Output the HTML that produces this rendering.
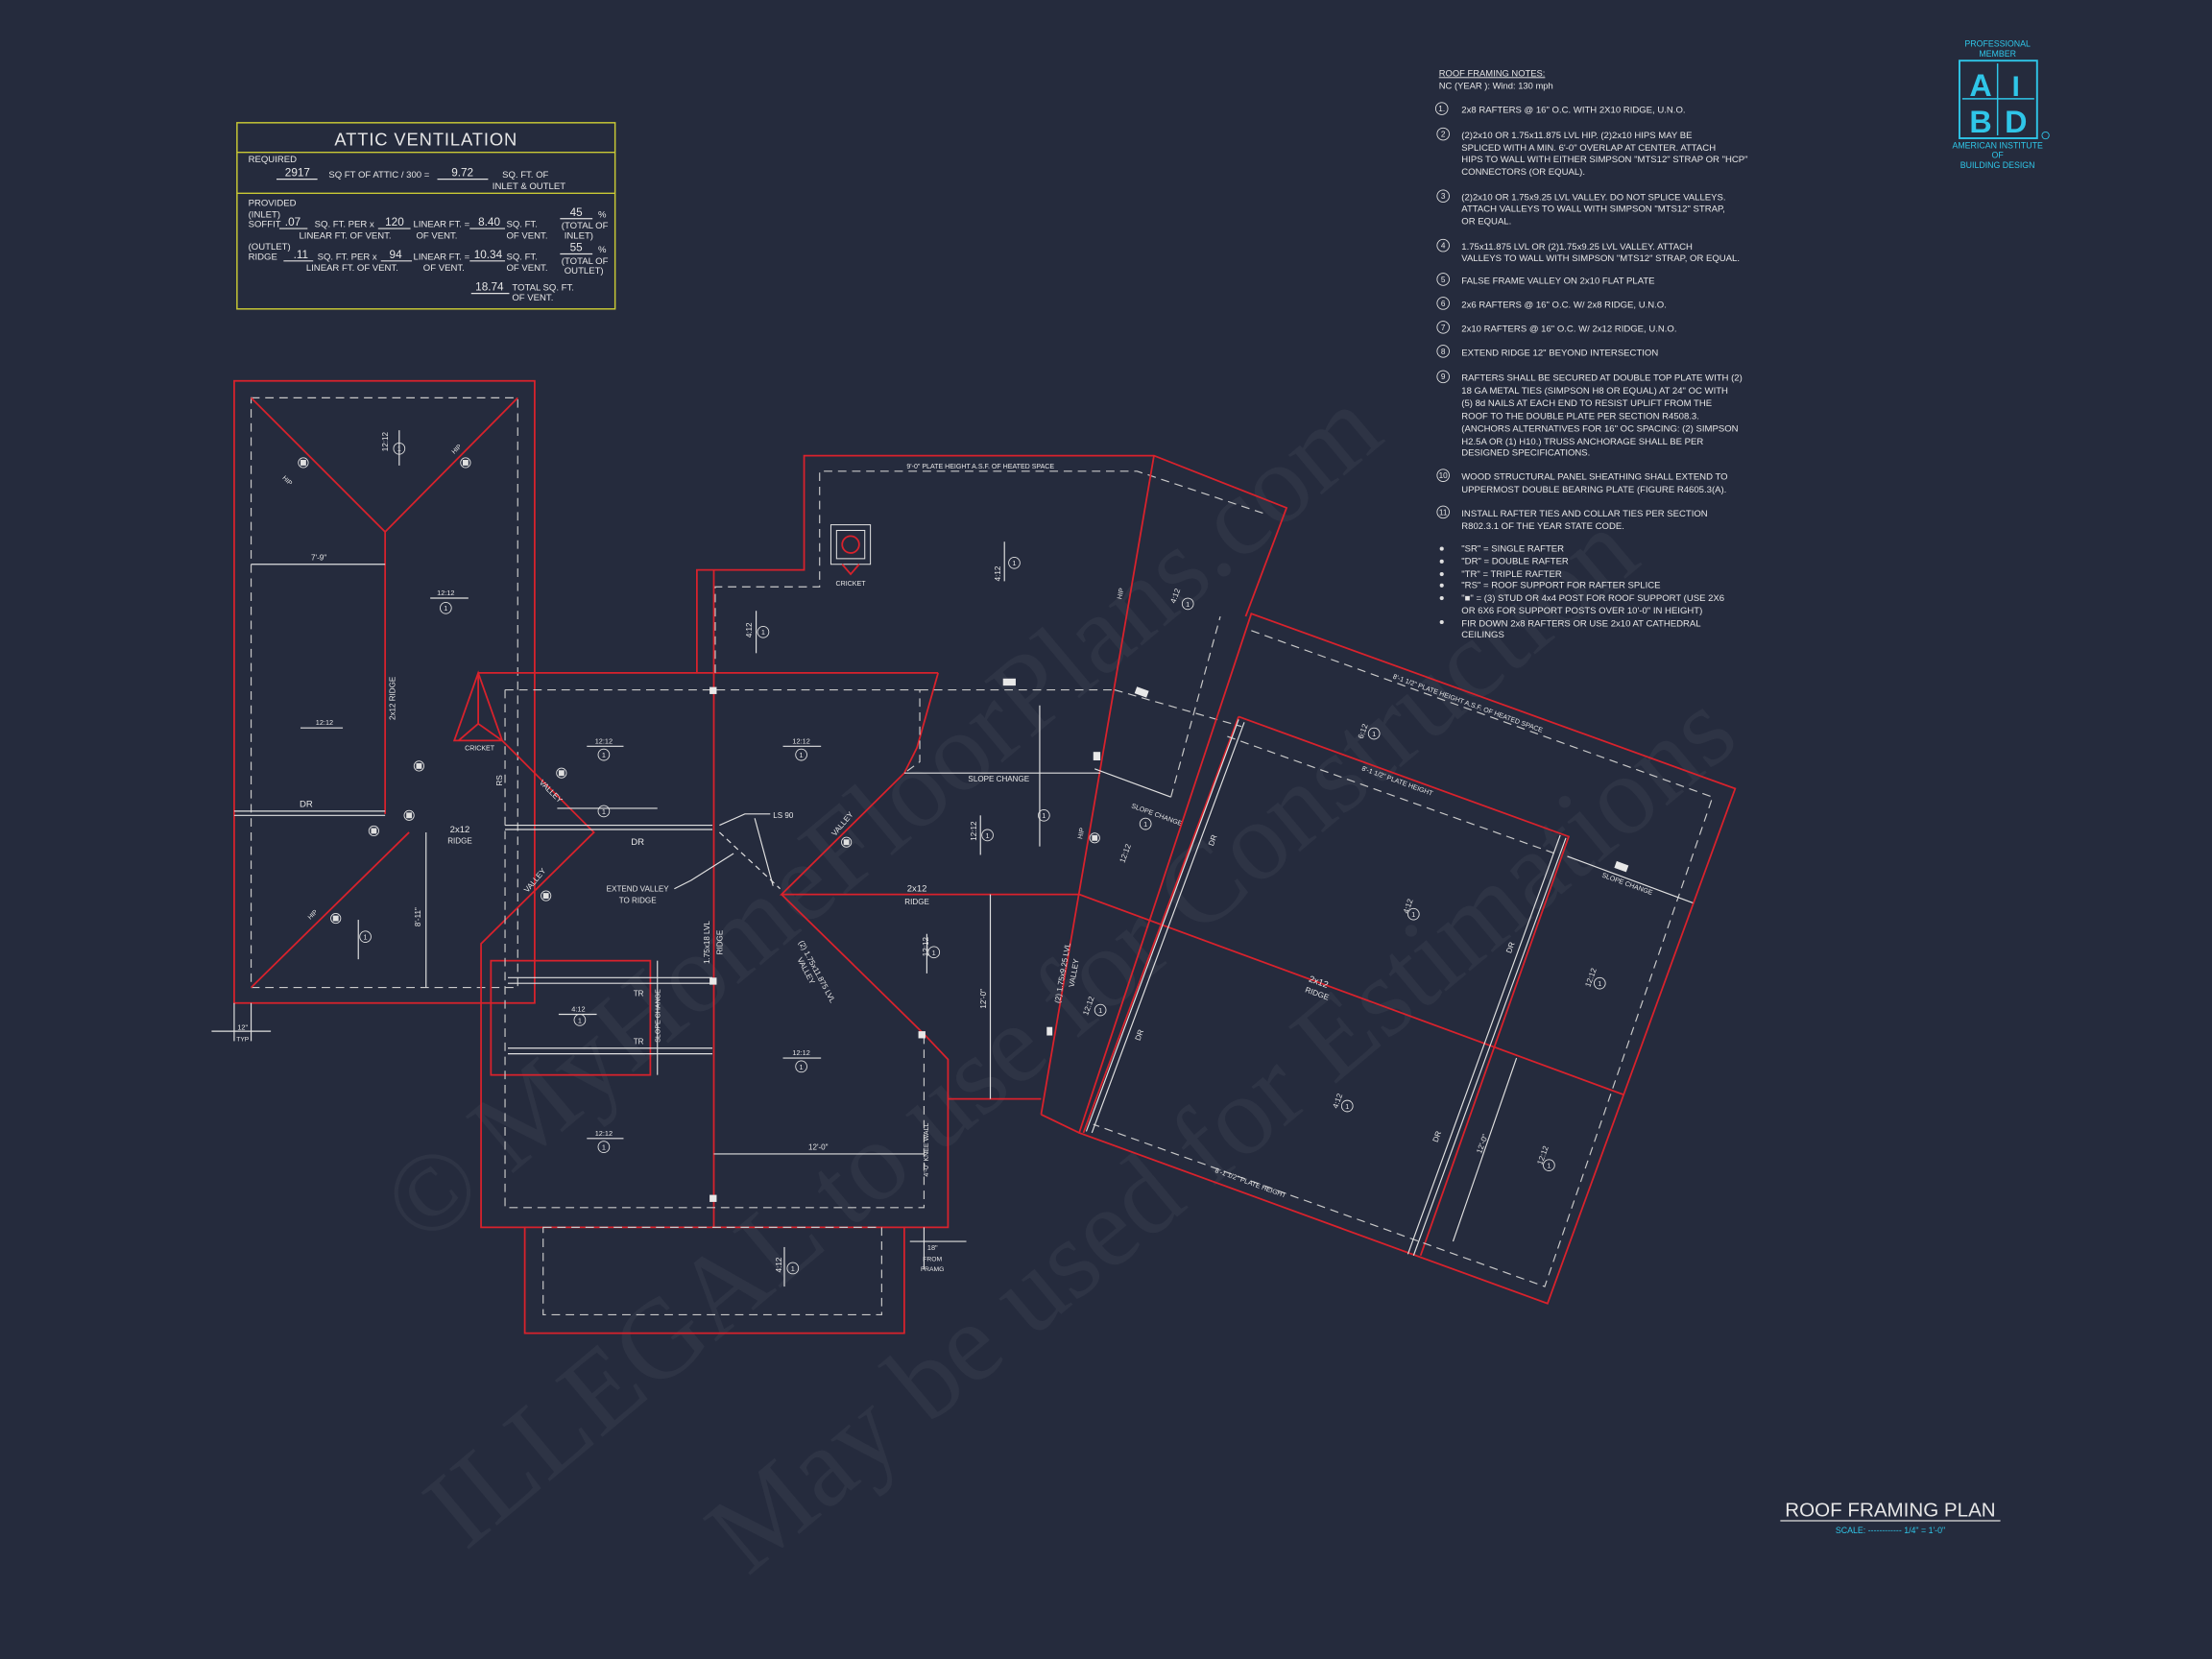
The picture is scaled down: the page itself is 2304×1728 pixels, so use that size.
<!DOCTYPE html>
<html><head><meta charset="utf-8"><style>
html,body{margin:0;padding:0;background:#252b3d;}
svg{display:block}
text{font-family:"Liberation Sans",sans-serif;fill:#e6e6e6}
.r{stroke:#d9222c;stroke-width:1.2;fill:none}
.d{stroke:#c9c9c9;stroke-width:.8;fill:none;stroke-dasharray:6 4}
.w{stroke:#e0e0e0;stroke-width:.8;fill:none}
.n{font-size:6.5px}
.s{font-size:5.5px}
.wm{font-family:"Liberation Serif",serif;fill:#ffffff;fill-opacity:.045;font-size:80px}
</style></head><body>
<svg width="2304" height="1728" viewBox="0 0 1568 1176" preserveAspectRatio="none" xmlns="http://www.w3.org/2000/svg">
<rect width="1568" height="1176" fill="#252b3d"/>

<!-- watermark -->
<text class="wm" transform="translate(300,885) rotate(-40)">© MyHomeFloorPlans.com</text>
<text class="wm" transform="translate(330,1100) rotate(-40)">ILLEGAL to use for Construction</text>
<text class="wm" transform="translate(530,1118) rotate(-40)">May be used for Estimations</text>

<!-- attic ventilation table -->
<g>
<rect x="168" y="87" width="268" height="132" fill="none" stroke="#c9c935" stroke-width="1"/>
<line x1="168" y1="108" x2="436" y2="108" stroke="#c9c935" stroke-width="1"/>
<line x1="168" y1="137" x2="436" y2="137" stroke="#c9c935" stroke-width="1"/>
<text x="302" y="103" font-size="12.5" text-anchor="middle" letter-spacing=".6">ATTIC VENTILATION</text>
<g font-size="6.5">
<text x="176" y="115">REQUIRED</text>
<text x="202" y="125" font-size="8">2917</text><line x1="196" y1="127" x2="225" y2="127" class="w"/>
<text x="233" y="126">SQ FT OF ATTIC / 300 =</text>
<text x="320" y="125" font-size="8">9.72</text><line x1="310" y1="127" x2="346" y2="127" class="w"/>
<text x="356" y="126">SQ. FT. OF</text><text x="349" y="134">INLET &amp; OUTLET</text>
<text x="176" y="146">PROVIDED</text>
<text x="176" y="154">(INLET)</text>
<text x="176" y="161">SOFFIT</text>
<text x="202" y="160" font-size="8">.07</text><line x1="198" y1="162" x2="218" y2="162" class="w"/>
<text x="223" y="161">SQ. FT. PER x</text><text x="212" y="169">LINEAR FT. OF VENT.</text>
<text x="273" y="160" font-size="8">120</text><line x1="268" y1="162" x2="291" y2="162" class="w"/>
<text x="293" y="161">LINEAR FT. =</text><text x="295" y="169">OF VENT.</text>
<text x="339" y="160" font-size="8">8.40</text><line x1="333" y1="162" x2="358" y2="162" class="w"/>
<text x="359" y="161">SQ. FT.</text><text x="359" y="169">OF VENT.</text>
<text x="404" y="153" font-size="8">45</text><line x1="397" y1="155" x2="420" y2="155" class="w"/><text x="424" y="154">%</text>
<text x="398" y="162">(TOTAL OF</text><text x="400" y="169">INLET)</text>
<text x="176" y="177">(OUTLET)</text>
<text x="176" y="184">RIDGE</text>
<text x="208" y="183" font-size="8">.11</text><line x1="201" y1="185" x2="222" y2="185" class="w"/>
<text x="225" y="184">SQ. FT. PER x</text><text x="217" y="192">LINEAR FT. OF VENT.</text>
<text x="276" y="183" font-size="8">94</text><line x1="270" y1="185" x2="292" y2="185" class="w"/>
<text x="293" y="184">LINEAR FT. =</text><text x="300" y="192">OF VENT.</text>
<text x="336" y="183" font-size="8">10.34</text><line x1="333" y1="185" x2="358" y2="185" class="w"/>
<text x="359" y="184">SQ. FT.</text><text x="359" y="192">OF VENT.</text>
<text x="404" y="178" font-size="8">55</text><line x1="397" y1="180" x2="420" y2="180" class="w"/><text x="424" y="179">%</text>
<text x="398" y="187">(TOTAL OF</text><text x="400" y="194">OUTLET)</text>
<text x="337" y="206" font-size="8">18.74</text><line x1="334" y1="208" x2="361" y2="208" class="w"/>
<text x="363" y="206">TOTAL  SQ. FT.</text><text x="363" y="213">OF VENT.</text>
</g>
</g>

<!-- notes -->
<g class="n">
<text x="1020" y="54" font-size="6.4" text-decoration="underline">ROOF FRAMING NOTES:</text>
<text x="1020" y="63" font-size="6.4">NC (YEAR ): Wind: 130 mph</text>
<g fill="none" stroke="#e0e0e0" stroke-width=".6">
<circle cx="1022" cy="77" r="4.3"/><circle cx="1023" cy="95" r="4.3"/><circle cx="1023" cy="139" r="4.3"/><circle cx="1023" cy="174" r="4.3"/><circle cx="1023" cy="198" r="4.3"/><circle cx="1023" cy="215" r="4.3"/><circle cx="1023" cy="232" r="4.3"/><circle cx="1023" cy="249" r="4.3"/><circle cx="1023" cy="267" r="4.3"/><circle cx="1023" cy="337" r="4.3"/><circle cx="1023" cy="363" r="4.3"/>
</g>
<g font-size="5.6" text-anchor="middle"><text x="1022" y="79">1.</text><text x="1023" y="97">2</text><text x="1023" y="141">3</text><text x="1023" y="176">4</text><text x="1023" y="200">5</text><text x="1023" y="217">6</text><text x="1023" y="234">7</text><text x="1023" y="251">8</text><text x="1023" y="269">9</text><text x="1023" y="339">10</text><text x="1023" y="365">11</text></g>
<text x="1036" y="80">2x8 RAFTERS @ 16" O.C. WITH 2X10 RIDGE, U.N.O.</text>
<text x="1036" y="98">(2)2x10 OR 1.75x11.875 LVL HIP.  (2)2x10 HIPS MAY BE</text>
<text x="1036" y="107">SPLICED WITH A MIN. 6'-0" OVERLAP AT CENTER. ATTACH</text>
<text x="1036" y="115">HIPS TO WALL WITH EITHER SIMPSON "MTS12" STRAP OR "HCP"</text>
<text x="1036" y="124">CONNECTORS (OR EQUAL).</text>
<text x="1036" y="142">(2)2x10 OR 1.75x9.25 LVL VALLEY.  DO NOT SPLICE VALLEYS.</text>
<text x="1036" y="150">ATTACH VALLEYS TO WALL WITH  SIMPSON "MTS12" STRAP,</text>
<text x="1036" y="159">OR EQUAL.</text>
<text x="1036" y="177">1.75x11.875 LVL OR (2)1.75x9.25 LVL VALLEY.  ATTACH</text>
<text x="1036" y="185">VALLEYS TO WALL WITH SIMPSON "MTS12" STRAP, OR EQUAL.</text>
<text x="1036" y="201">FALSE FRAME VALLEY ON 2x10 FLAT PLATE</text>
<text x="1036" y="218">2x6 RAFTERS @ 16" O.C. W/ 2x8 RIDGE, U.N.O.</text>
<text x="1036" y="235">2x10 RAFTERS @ 16" O.C. W/ 2x12 RIDGE, U.N.O.</text>
<text x="1036" y="252">EXTEND RIDGE 12" BEYOND INTERSECTION</text>
<text x="1036" y="270">RAFTERS SHALL BE SECURED AT DOUBLE TOP PLATE WITH (2)</text>
<text x="1036" y="279">18 GA METAL TIES (SIMPSON H8 OR EQUAL) AT 24" OC WITH</text>
<text x="1036" y="288">(5) 8d NAILS AT EACH END TO RESIST UPLIFT FROM THE</text>
<text x="1036" y="297">ROOF TO THE DOUBLE PLATE PER SECTION R4508.3.</text>
<text x="1036" y="306">(ANCHORS ALTERNATIVES FOR 16" OC SPACING: (2) SIMPSON</text>
<text x="1036" y="315">H2.5A OR (1) H10.) TRUSS ANCHORAGE SHALL BE PER</text>
<text x="1036" y="323">DESIGNED SPECIFICATIONS.</text>
<text x="1036" y="340">WOOD STRUCTURAL PANEL SHEATHING SHALL EXTEND TO</text>
<text x="1036" y="349">UPPERMOST DOUBLE BEARING PLATE (FIGURE R4605.3(A).</text>
<text x="1036" y="366">INSTALL RAFTER TIES AND COLLAR TIES PER SECTION</text>
<text x="1036" y="375">R802.3.1 OF THE YEAR STATE CODE.</text>
<g><circle cx="1022" cy="389" r="1.4" fill="#e0e0e0"/><circle cx="1022" cy="398" r="1.4" fill="#e0e0e0"/><circle cx="1022" cy="407" r="1.4" fill="#e0e0e0"/><circle cx="1022" cy="415" r="1.4" fill="#e0e0e0"/><circle cx="1022" cy="424" r="1.4" fill="#e0e0e0"/><circle cx="1022" cy="441" r="1.4" fill="#e0e0e0"/></g>
<text x="1036" y="391">"SR"  = SINGLE RAFTER</text>
<text x="1036" y="400">"DR"  = DOUBLE RAFTER</text>
<text x="1036" y="409">"TR"  = TRIPLE RAFTER</text>
<text x="1036" y="417">"RS" = ROOF SUPPORT FOR RAFTER SPLICE</text>
<text x="1036" y="426">"■" = (3) STUD OR 4x4 POST FOR ROOF SUPPORT (USE 2X6</text>
<text x="1036" y="435">OR 6X6 FOR SUPPORT POSTS OVER 10'-0" IN HEIGHT)</text>
<text x="1036" y="444">FIR DOWN 2x8 RAFTERS OR USE 2x10 AT CATHEDRAL</text>
<text x="1036" y="452">CEILINGS</text>
</g>

<!-- logo -->
<g>
<text x="1416" y="33" font-size="6" text-anchor="middle" style="fill:#2fc6e8">PROFESSIONAL</text>
<text x="1416" y="40" font-size="6" text-anchor="middle" style="fill:#2fc6e8">MEMBER</text>
<rect x="1389" y="43" width="55" height="55" fill="none" stroke="#2fc6e8" stroke-width="1.3"/>
<line x1="1416" y1="45" x2="1416" y2="96" stroke="#2fc6e8" stroke-width="1"/>
<line x1="1391" y1="70" x2="1442" y2="70" stroke="#2fc6e8" stroke-width="1"/>
<text x="1404" y="68" font-size="22" font-weight="bold" text-anchor="middle" style="fill:#2fc6e8">A</text>
<text x="1429" y="68" font-size="20" font-weight="bold" text-anchor="middle" style="fill:#2fc6e8">I</text>
<text x="1404" y="94" font-size="22" font-weight="bold" text-anchor="middle" style="fill:#2fc6e8">B</text>
<text x="1429" y="94" font-size="22" font-weight="bold" text-anchor="middle" style="fill:#2fc6e8">D</text>
<circle cx="1450" cy="96" r="2.5" fill="none" stroke="#2fc6e8" stroke-width=".6"/>
<text x="1416" y="105" font-size="6" text-anchor="middle" style="fill:#2fc6e8">AMERICAN INSTITUTE</text>
<text x="1416" y="112" font-size="6" text-anchor="middle" style="fill:#2fc6e8">OF</text>
<text x="1416" y="119" font-size="6" text-anchor="middle" style="fill:#2fc6e8">BUILDING DESIGN</text>
</g>

<!-- title -->
<text x="1340" y="1075" font-size="14" text-anchor="middle">ROOF FRAMING PLAN</text>
<line x1="1262" y1="1078" x2="1418" y2="1078" stroke="#e0e0e0" stroke-width=".9"/>
<text x="1340" y="1087" font-size="6" text-anchor="middle" style="fill:#2fc6e8">SCALE: ------------ 1/4" = 1'-0"</text>

<!-- LEFT WING -->
<rect x="166" y="270" width="213" height="441" class="r"/>
<rect x="178" y="282" width="189" height="418" class="d"/>
<polyline points="178,282 273,377 367,282" class="r"/>
<line x1="273" y1="377" x2="273" y2="577" class="r"/>
<polyline points="178,700 290,590" class="r"/>
<line x1="166" y1="575" x2="273" y2="575" class="w"/><line x1="166" y1="578" x2="273" y2="578" class="w"/>
<line x1="178" y1="400" x2="273" y2="400" class="w"/><text x="226" y="397" class="s" text-anchor="middle">7'-9"</text>
<line x1="302" y1="590" x2="302" y2="700" class="w"/><text x="298" y="650" class="s" transform="rotate(-90 298 650)" text-anchor="middle">8'-11"</text>
<text x="280" y="495" class="s" transform="rotate(-90 280 495)" text-anchor="middle">2x12 RIDGE</text>
<text x="217" y="572" class="n" text-anchor="middle">DR</text>
<line x1="166" y1="711" x2="166" y2="738" class="w"/><line x1="178" y1="711" x2="178" y2="738" class="w"/>
<line x1="150" y1="731" x2="192" y2="731" class="w"/><text x="172" y="730" font-size="5" text-anchor="middle">12"</text><text x="172" y="738" font-size="4.5" text-anchor="middle">TYP</text>

<!-- CENTER -->
<polyline points="339,477 665,477" class="r"/>
<polyline points="665,477 650,530 641,548 554,634 765,634" class="r"/>
<polyline points="554,634 655,733 672,751 672,870 341,870 341,669 421,590 356,525 339,477 322,525 356,525" class="r"/>
<line x1="339" y1="477" x2="339" y2="513" class="r"/><line x1="325" y1="525" x2="339" y2="513" class="r"/><line x1="356" y1="525" x2="339" y2="513" class="r"/>
<line x1="506" y1="477" x2="506" y2="870" class="r"/>
<rect x="348" y="681" width="113" height="81" class="r"/>
<polyline points="372,870 372,945 641,945 641,870" class="r"/>
<rect x="385" y="870" width="240" height="62" class="d" />
<polyline points="358,489 652,489 652,540 641,548" class="d"/>
<polyline points="358,489 358,856 655,856 655,733" class="d"/>
<line x1="652" y1="489" x2="790" y2="489" class="d"/>
<line x1="506" y1="477" x2="506" y2="404" class="r"/>
<polyline points="494,477 494,404 570,404 570,323 818,323 912,360 883,437" class="r"/>
<polyline points="507,477 507,416 581,416 581,334 806,334 896,364" class="d"/>
<line x1="818" y1="323" x2="738" y2="790" class="r"/>
<line x1="672" y1="779" x2="738" y2="779" class="r"/>
<!-- DR lines center -->
<g class="w"><line x1="358" y1="585" x2="505" y2="585"/><line x1="358" y1="588" x2="505" y2="588"/></g>
<g class="w"><line x1="360" y1="693" x2="505" y2="693"/><line x1="360" y1="697" x2="505" y2="697"/><line x1="360" y1="743" x2="505" y2="743"/><line x1="360" y1="747" x2="505" y2="747"/></g>
<line x1="466" y1="681" x2="466" y2="762" class="w"/>
<line x1="506" y1="818" x2="655" y2="818" class="w"/><text x="580" y="815" class="s" text-anchor="middle">12'-0"</text>
<line x1="702" y1="634" x2="702" y2="779" class="w"/><text x="699" y="708" class="s" transform="rotate(-90 699 708)" text-anchor="middle">12'-0"</text>
<line x1="641" y1="548" x2="780" y2="548" class="w"/><text x="708" y="554" class="s" text-anchor="middle">SLOPE CHANGE</text>
<line x1="737" y1="500" x2="737" y2="600" class="w"/>
<text x="566" y="668" class="s" transform="rotate(62 566 668)">(2) 1.75x11.875 LVL</text>
<text x="565" y="680" class="s" transform="rotate(62 565 680)">VALLEY</text>
<text x="503" y="668" class="s" transform="rotate(-90 503 668)" text-anchor="middle">1.75x18 LVL</text>
<text x="512" y="668" class="s" transform="rotate(-90 512 668)" text-anchor="middle">RIDGE</text>
<text x="650" y="632" class="n" text-anchor="middle">2x12</text><text x="650" y="641" class="s" text-anchor="middle">RIDGE</text>
<text x="326" y="590" class="n" text-anchor="middle">2x12</text><text x="326" y="598" class="s" text-anchor="middle">RIDGE</text>
<text x="452" y="599" class="n" text-anchor="middle">DR</text>
<text x="452" y="632" class="s" text-anchor="middle">EXTEND VALLEY</text><text x="452" y="640" class="s" text-anchor="middle">TO RIDGE</text>
<polyline points="478,630 490,624 520,605" class="w"/>
<text x="548" y="580" class="s">LS 90</text>
<polyline points="546,577 528,577 510,585" class="w"/><line x1="535" y1="580" x2="548" y2="628" class="w"/>
<line x1="510" y1="590" x2="553" y2="630" class="w" stroke-dasharray="4 3"/>
<text x="340" y="532" font-size="4.8" text-anchor="middle">CRICKET</text>
<text x="449" y="706" class="s">TR</text><text x="449" y="740" class="s">TR</text>
<text x="468" y="720" font-size="4.8" transform="rotate(-90 468 720)" text-anchor="middle">SLOPE CHANGE</text>
<text x="658" y="815" font-size="4.8" transform="rotate(-90 658 815)" text-anchor="middle">4'-0" KNEE WALL</text>
<line x1="655" y1="870" x2="655" y2="900" class="w"/><line x1="645" y1="880" x2="685" y2="880" class="w"/>
<text x="661" y="886" font-size="5" text-anchor="middle">18"</text><text x="661" y="894" font-size="4.6" text-anchor="middle">FROM</text><text x="661" y="901" font-size="4.6" text-anchor="middle">FRAMG</text>
<text x="382" y="555" class="s" transform="rotate(45 382 555)">VALLEY</text>
<text x="374" y="633" class="s" transform="rotate(-50 374 633)">VALLEY</text>
<text x="592" y="593" class="s" transform="rotate(-50 592 593)">VALLEY</text>
<text x="356" y="557" class="s" transform="rotate(-90 356 557)">RS</text>
<!-- cricket box -->
<rect x="589" y="372" width="28" height="28" fill="none" stroke="#e0e0e0" stroke-width=".7"/>
<rect x="593" y="376" width="20" height="20" fill="none" stroke="#e0e0e0" stroke-width=".7"/>
<circle cx="603" cy="386" r="6" class="r"/>
<polyline points="597,400 603,407 609,400" class="r"/>
<text x="603" y="415" font-size="4.8" text-anchor="middle">CRICKET</text>
<text x="695" y="332" font-size="4.8" text-anchor="middle">9'-0" PLATE HEIGHT A.S.F. OF HEATED SPACE</text>
<text x="795" y="425" font-size="4.8" transform="rotate(-78 795 425)">HIP</text>
<text x="767" y="595" font-size="4.8" transform="rotate(-78 767 595)">HIP</text>
<text x="755" y="690" class="s" transform="rotate(-80 755 690)" text-anchor="middle">(2) 1.75x9.25 LVL</text>
<text x="763" y="690" class="s" transform="rotate(-80 763 690)" text-anchor="middle">VALLEY</text>
<!-- posts -->
<g fill="#e8e8e8"><rect x="503" y="487" width="5" height="5"/><rect x="503" y="693" width="5" height="5"/><rect x="503" y="847" width="5" height="5"/><rect x="651" y="731" width="5" height="5"/><rect x="711" y="481" width="9" height="5"/><rect x="775" y="533" width="5" height="6"/><rect x="742" y="728" width="4" height="6"/><rect x="805" y="488" width="9" height="5" transform="rotate(20 809 490)"/><rect x="1145" y="612" width="9" height="5" transform="rotate(20 1150 614)"/></g>

<!-- upper-right block / slope change -->
<polyline points="790,489 880,515" class="d"/>
<polyline points="776,545 830,565" class="w"/>
<polyline points="830,565 865,437" class="d"/>
<text x="805" y="566" font-size="4.8" transform="rotate(20 785 560)">SLOPE CHANGE</text>

<!-- RIGHT WING -->
<polygon points="887,435 1230,559 1097,924 765,803" class="r"/>
<polyline points="878,508 1112,593 1007,890" class="r"/>
<line x1="878" y1="508" x2="768" y2="803" class="r"/>
<line x1="765" y1="634" x2="1151" y2="776" class="r"/>
<line x1="738" y1="790" x2="765" y2="803" class="r"/>
<polyline points="887,447 1214,565 1095,912 775,797" class="d"/>
<line x1="870" y1="522" x2="1105" y2="606" class="d"/>
<g class="w"><line x1="878" y1="510" x2="770" y2="802"/><line x1="882" y1="512" x2="774" y2="803"/><line x1="1106" y1="592" x2="998" y2="889"/><line x1="1110" y1="594" x2="1002" y2="890"/></g>
<line x1="1111" y1="607" x2="1200" y2="640" class="w"/>
<line x1="1075" y1="750" x2="1030" y2="880" class="w"/>
<text x="1040" y="500" font-size="4.8" transform="rotate(20 1040 500)" text-anchor="middle">8'-1 1/2" PLATE HEIGHT A.S.F. OF HEATED SPACE</text>
<text x="990" y="555" font-size="4.8" transform="rotate(20 990 555)" text-anchor="middle">8'-1 1/2" PLATE HEIGHT</text>
<text x="886" y="840" font-size="4.8" transform="rotate(20 886 840)" text-anchor="middle">8'-1 1/2" PLATE HEIGHT</text>
<text x="1153" y="628" font-size="4.8" transform="rotate(20 1153 628)" text-anchor="middle">SLOPE CHANGE</text>
<text x="934" y="698" class="n" transform="rotate(20 934 698)" text-anchor="middle">2x12</text>
<text x="933" y="706" class="s" transform="rotate(20 933 706)" text-anchor="middle">RIDGE</text>
<g class="s"><text x="860" y="600" transform="rotate(-70 860 600)">DR</text><text x="808" y="738" transform="rotate(-70 808 738)">DR</text><text x="1071" y="676" transform="rotate(-70 1071 676)">DR</text><text x="1019" y="810" transform="rotate(-70 1019 810)">DR</text></g>
<text x="1050" y="818" class="s" transform="rotate(-70 1050 818)">12'-0"</text>

<!-- slope symbols -->
<g font-size="5" text-anchor="middle">
<g stroke="#e0e0e0" stroke-width=".6" fill="none">
<circle cx="283" cy="318" r="4"/><circle cx="316" cy="431" r="4"/><circle cx="259" cy="664" r="4"/><circle cx="428" cy="535" r="4"/><circle cx="568" cy="535" r="4"/><circle cx="541" cy="448" r="4"/><circle cx="719" cy="399" r="4"/><circle cx="842" cy="428" r="4"/><circle cx="740" cy="578" r="4"/><circle cx="700" cy="592" r="4"/><circle cx="662" cy="675" r="4"/><circle cx="812" cy="584" r="4"/><circle cx="780" cy="716" r="4"/><circle cx="411" cy="723" r="4"/><circle cx="568" cy="756" r="4"/><circle cx="428" cy="813" r="4"/><circle cx="562" cy="899" r="4"/><circle cx="974" cy="520" r="4"/><circle cx="1002" cy="648" r="4"/><circle cx="1134" cy="697" r="4"/><circle cx="955" cy="784" r="4"/><circle cx="1098" cy="826" r="4"/><circle cx="428" cy="575" r="4"/>
<circle cx="215" cy="328" r="3.5"/><circle cx="330" cy="328" r="3.5"/><circle cx="297" cy="543" r="3.5"/><circle cx="265" cy="589" r="3.5"/><circle cx="238" cy="651" r="3.5"/><circle cx="398" cy="548" r="3.5"/><circle cx="387" cy="635" r="3.5"/><circle cx="600" cy="597" r="3.5"/><circle cx="776" cy="594" r="3.5"/><circle cx="290" cy="578" r="3.5"/>
</g>
<g fill="#e0e0e0"><rect x="213" y="326" width="4" height="4"/><rect x="328" y="326" width="4" height="4"/><rect x="295" y="541" width="4" height="4"/><rect x="263" y="587" width="4" height="4"/><rect x="236" y="649" width="4" height="4"/><rect x="396" y="546" width="4" height="4"/><rect x="385" y="633" width="4" height="4"/><rect x="598" y="595" width="4" height="4"/><rect x="774" y="592" width="4" height="4"/><rect x="288" y="576" width="4" height="4"/></g>
<text x="283" y="320">1</text><text x="316" y="433">1</text><text x="259" y="666">1</text><text x="428" y="537">1</text><text x="568" y="537">1</text><text x="541" y="450">1</text><text x="719" y="401">1</text><text x="842" y="430">1</text><text x="740" y="580">1</text><text x="700" y="594">1</text><text x="662" y="677">1</text><text x="812" y="586">1</text><text x="780" y="718">1</text><text x="411" y="725">1</text><text x="568" y="758">1</text><text x="428" y="815">1</text><text x="562" y="901">1</text><text x="974" y="522">1</text><text x="1002" y="650">1</text><text x="1134" y="699">1</text><text x="955" y="786">1</text><text x="1098" y="828">1</text><text x="428" y="577">1</text>
<text x="316" y="422">12:12</text><text x="230" y="514">12:12</text><text x="428" y="527">12:12</text><text x="568" y="527">12:12</text><text x="410" y="717">4:12</text><text x="568" y="748">12:12</text><text x="428" y="805">12:12</text>
</g>
<g class="w">
<line x1="305" y1="424" x2="332" y2="424"/><line x1="213" y1="516" x2="243" y2="516"/><line x1="416" y1="529" x2="442" y2="529"/><line x1="555" y1="529" x2="582" y2="529"/><line x1="396" y1="719" x2="423" y2="719"/><line x1="555" y1="750" x2="582" y2="750"/><line x1="416" y1="807" x2="442" y2="807"/><line x1="395" y1="573" x2="466" y2="573"/>
<line x1="283" y1="305" x2="283" y2="330"/><line x1="254" y1="652" x2="254" y2="680"/><line x1="536" y1="433" x2="536" y2="463"/><line x1="712" y1="384" x2="712" y2="412"/><line x1="695" y1="578" x2="695" y2="606"/><line x1="657" y1="662" x2="657" y2="690"/><line x1="556" y1="884" x2="556" y2="912"/>
</g>
<g class="s">
<text x="275" y="320" transform="rotate(-90 275 320)">12:12</text><text x="533" y="452" transform="rotate(-90 533 452)">4:12</text><text x="709" y="412" transform="rotate(-90 709 412)">4:12</text><text x="692" y="596" transform="rotate(-90 692 596)">12:12</text><text x="658" y="678" transform="rotate(-90 658 678)">12:12</text><text x="554" y="902" transform="rotate(-90 554 902)">4:12</text>
<text x="833" y="428" transform="rotate(-70 833 428)">4:12</text><text x="797" y="612" transform="rotate(-70 797 612)">12:12</text><text x="771" y="720" transform="rotate(-70 771 720)">12:12</text><text x="966" y="524" transform="rotate(-70 966 524)">6:12</text><text x="998" y="648" transform="rotate(-70 998 648)">4:12</text><text x="1127" y="700" transform="rotate(-70 1127 700)">12:12</text><text x="948" y="786" transform="rotate(-70 948 786)">4:12</text><text x="1093" y="826" transform="rotate(-70 1093 826)">12:12</text>
</g>
<text x="217" y="346" font-size="4.5" transform="rotate(45 217 322)">HIP</text>
<text x="322" y="322" font-size="4.5" transform="rotate(-45 322 322)">HIP</text>
<text x="220" y="652" font-size="4.5" transform="rotate(-45 220 652)">HIP</text>
</svg>
</body></html>
